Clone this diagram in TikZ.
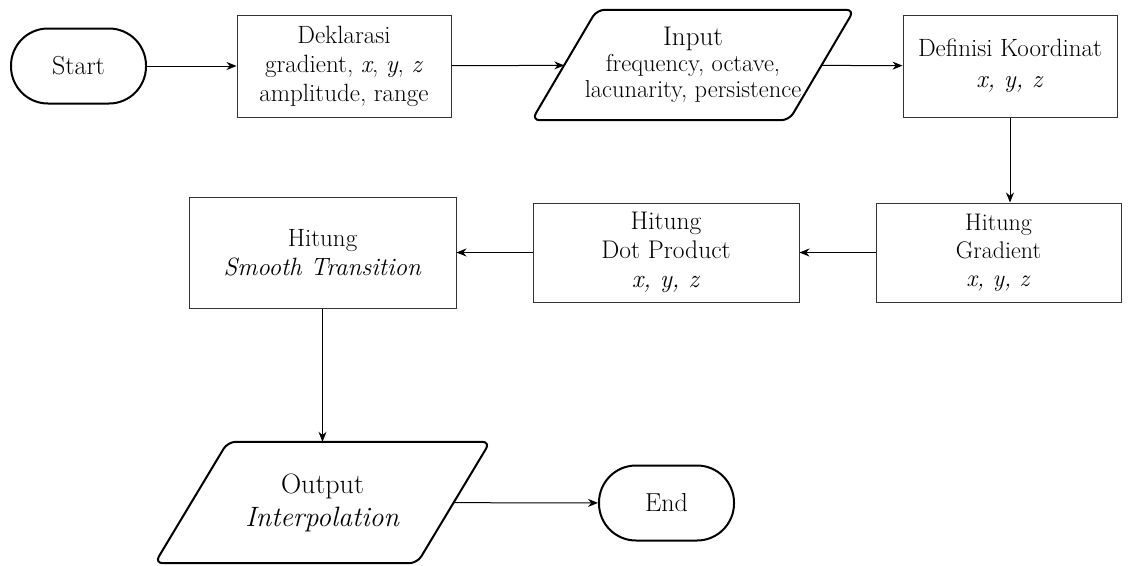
\documentclass[tikz,border=0pt]{standalone}
\usetikzlibrary{arrows.meta}

\tikzset{
    terminal/.style={draw, line width=2pt, rounded corners=37pt,
        minimum width=135pt, minimum height=75pt, font=\fontsize{26}{29}\selectfont},
    proses/.style={draw=black!80, line width=1pt, align=center, inner sep=2pt,
        font=\fontsize{25}{29}\selectfont},
    io/.style={align=center, inner sep=0pt},
    iobox/.style={draw, line width=2pt, rounded corners=8pt},
    alur/.style={->, line width=1pt},
}

\begin{document}
\begin{tikzpicture}[x=1pt, y=-1pt, >={Stealth[length=10pt,width=8pt]}, text=black]
    \useasboundingbox (0,0) rectangle (1135,565);

    % 绘制开始与结束节点
    \node[terminal] (mulai) at (78.5,66) {Start};
    \node[terminal] (selesai) at (666.5,503) {End};

    % 绘制第一行
    \node[proses, minimum width=214pt, minimum height=102pt] (dekl) at (344,66)
        {Deklarasi\\gradient, \textit{x}, \textit{y}, \textit{z}\\amplitude, range};
    \node[io, minimum width=257pt, minimum height=110pt,
        font=\fontsize{24.5}{26}\selectfont] (input) at (693,65)
        {{\fontsize{27}{29}\selectfont Input}\\frequency, octave,\\lacunarity, persistence};
    \draw[iobox] ([xshift=-32.5pt]input.south west) -- ([xshift=32.5pt]input.north west)
        -- ([xshift=32.5pt]input.north east) -- ([xshift=-32.5pt]input.south east) -- cycle;
    \node[proses, minimum width=214pt, minimum height=102pt] (koor) at (1010,66)
        {Definisi Koordinat\\[2pt]\textit{x, y, z}};

    % 绘制第二行
    \node[proses, minimum width=245pt, minimum height=99pt,
        font=\fontsize{24}{28}\selectfont] (grad) at (998.5,252.5)
        {Hitung\\Gradient\\\textit{x, y, z}};
    \node[proses, minimum width=266pt, minimum height=99pt,
        font=\fontsize{25.5}{29}\selectfont] (dot) at (666,252.5)
        {Hitung\\Dot Product\\\textit{x, y, z}};
    \node[proses, minimum width=267pt, minimum height=111pt] (smooth) at (322.5,252.5)
        {Hitung\\\textit{Smooth Transition}};

    % 绘制输出节点
    \node[io, minimum width=262pt, minimum height=121pt,
        font=\fontsize{28}{33}\selectfont] (output) at (322.5,502.5)
        {Output\\\textit{Interpolation}};
    \draw[iobox] ([xshift=-36.5pt]output.south west) -- ([xshift=36.5pt]output.north west)
        -- ([xshift=36.5pt]output.north east) -- ([xshift=-36.5pt]output.south east) -- cycle;

    % 绘制连接线
    \draw[alur] (mulai) -- (dekl);
    \draw[alur] (dekl) -- (input);
    \draw[alur] (input) -- (koor);
    \draw[alur] (koor.south) -- (koor.south |- grad.north);
    \draw[alur] (grad) -- (dot);
    \draw[alur] (dot) -- (smooth);
    \draw[alur] (smooth.south) -- (output.north);
    \draw[alur] (output) -- (selesai);

\end{tikzpicture}
\end{document}
